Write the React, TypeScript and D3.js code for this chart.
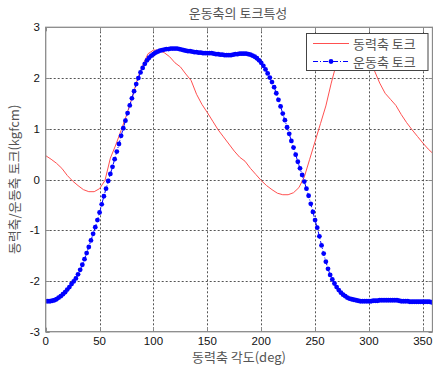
import React, { useRef, useEffect } from 'react'
import * as d3 from 'd3'

// 동력축 토크, every 5 deg from 0 to 360
const driveAngles = d3.range(0, 361, 5)
const driveTorque = [
  0.47, 0.40, 0.32, 0.22, 0.08, -0.03, -0.12, -0.20, -0.24, -0.24,
  -0.18, -0.02, 0.42, 0.68, 0.97, 1.27, 1.60, 1.97, 2.25, 2.48,
  2.55, 2.55, 2.50, 2.42, 2.30, 2.22, 2.08, 1.95, 1.68, 1.48,
  1.32, 1.15, 0.98, 0.84, 0.70, 0.56, 0.44, 0.36, 0.22, 0.10,
  -0.02, -0.12, -0.20, -0.27, -0.30, -0.30, -0.26, -0.16, 0.05, 0.40,
  0.75, 1.10, 1.45, 1.90, 2.30, 2.50, 2.60, 2.60, 2.55, 2.45,
  2.32, 2.15, 1.90, 1.70, 1.58, 1.46, 1.28, 1.12, 0.98, 0.85,
  0.72, 0.60, 0.50,
]

// 운동축 토크, every 2 deg from 0 to 360
const motionAngles = d3.range(0, 361, 2)
const motionTorque = [
  -2.40, -2.40, -2.40, -2.39, -2.38, -2.36, -2.33, -2.30, -2.26, -2.22,
  -2.17, -2.12, -2.06, -2.01, -1.95, -1.87, -1.78, -1.68, -1.57, -1.45,
  -1.33, -1.20, -1.07, -0.94, -0.80, -0.65, -0.49, -0.33, -0.18, -0.03,
  0.11, 0.25, 0.40, 0.55, 0.70, 0.86, 1.01, 1.16, 1.31, 1.46,
  1.60, 1.74, 1.88, 2.00, 2.11, 2.20, 2.28, 2.35, 2.40, 2.44,
  2.47, 2.50, 2.52, 2.54, 2.55, 2.56, 2.57, 2.57, 2.58, 2.58,
  2.58, 2.58, 2.57, 2.56, 2.55, 2.54, 2.53, 2.53, 2.52, 2.51,
  2.51, 2.50, 2.50, 2.49, 2.49, 2.49, 2.49, 2.49, 2.48, 2.47,
  2.47, 2.46, 2.46, 2.45, 2.45, 2.45, 2.45, 2.46, 2.47, 2.47,
  2.48, 2.48, 2.48, 2.48, 2.47, 2.46, 2.44, 2.42, 2.39, 2.35,
  2.30, 2.24, 2.17, 2.09, 2.01, 1.92, 1.82, 1.70, 1.57, 1.44,
  1.30, 1.17, 1.03, 0.90, 0.76, 0.63, 0.49, 0.35, 0.22, 0.09,
  -0.04, -0.18, -0.32, -0.48, -0.64, -0.80, -0.95, -1.12, -1.30, -1.46,
  -1.62, -1.76, -1.88, -1.97, -2.05, -2.12, -2.18, -2.23, -2.27, -2.30,
  -2.33, -2.35, -2.36, -2.37, -2.38, -2.39, -2.40, -2.40, -2.40, -2.40,
  -2.40, -2.40, -2.39, -2.39, -2.39, -2.38, -2.38, -2.38, -2.38, -2.38,
  -2.38, -2.38, -2.38, -2.38, -2.39, -2.40, -2.40, -2.40, -2.40, -2.41,
  -2.41, -2.41, -2.41, -2.41, -2.41, -2.41, -2.41, -2.41, -2.41, -2.42,
  -2.42,
]

const xTicks = [0, 50, 100, 150, 200, 250, 300, 350]
const yTicks = [-3, -2, -1, 0, 1, 2, 3]
const legendLabels = ['동력축 토크', '운동축 토크']

const KR = '"Noto Sans CJK KR", "Liberation Sans", sans-serif'
const NUM = '"Liberation Sans", Arial, sans-serif'

export default function App() {
  const svgRef = useRef<SVGSVGElement>(null)

  useEffect(() => {
    const width = 433
    const height = 366
    const svg = d3.select(svgRef.current)
    svg.selectAll('*').remove()

    const x = d3.scaleLinear().domain([0, 360]).range([45.7, 433.6])
    const y = d3.scaleLinear().domain([-3, 3]).range([331.7, 27.3])
    const [x0, x1] = [45.7, 432.5]
    const [y0, y1] = [331.7, 27.3]

    // white plot area
    svg.append('rect').attr('x', x0).attr('y', y1).attr('width', x1 - x0).attr('height', y0 - y1).attr('fill', '#fff')

    // grid
    const grid = svg.append('g').attr('stroke', '#555').attr('stroke-width', 1).attr('stroke-dasharray', '2,2')
    xTicks.filter(d => d > 0).forEach(d => {
      grid.append('line').attr('x1', Math.round(x(d)) + 0.5).attr('x2', Math.round(x(d)) + 0.5).attr('y1', y1).attr('y2', y0)
    })
    yTicks.filter(d => d > -3 && d < 3).forEach(d => {
      grid.append('line').attr('x1', x0).attr('x2', x1).attr('y1', Math.round(y(d)) + 0.5).attr('y2', Math.round(y(d)) + 0.5)
    })

    const clip = svg.append('clipPath').attr('id', 'plotclip')
    clip.append('rect').attr('x', x0).attr('y', y1).attr('width', x1 - x0).attr('height', y0 - y1)
    const plot = svg.append('g').attr('clip-path', 'url(#plotclip)')

    // red drive torque
    const redLine = d3.line<number>()
      .x((_, i) => x(driveAngles[i]))
      .y(d => y(d))
    plot.append('path')
      .datum(driveTorque)
      .attr('d', redLine)
      .attr('fill', 'none')
      .attr('stroke', '#ff5050')
      .attr('stroke-width', 1)

    // blue motion torque
    const blueLine = d3.line<number>()
      .x((_, i) => x(motionAngles[i]))
      .y(d => y(d))
    plot.append('path')
      .datum(motionTorque)
      .attr('d', blueLine)
      .attr('fill', 'none')
      .attr('stroke', '#0000ff')
      .attr('stroke-width', 1)
      .attr('stroke-dasharray', '5,2,1,2')
    plot.append('g')
      .selectAll('circle')
      .data(motionTorque)
      .join('circle')
      .attr('cx', (_, i) => x(motionAngles[i]))
      .attr('cy', d => y(d))
      .attr('r', 2.4)
      .attr('fill', '#0000ff')

    // axes box
    const axisColor = '#8a8a8a'
    svg.append('rect')
      .attr('x', x0).attr('y', y1).attr('width', x1 - x0).attr('height', y0 - y1)
      .attr('fill', 'none').attr('stroke', axisColor).attr('stroke-width', 1.3)

    // ticks inward
    const ticks = svg.append('g').attr('stroke', axisColor).attr('stroke-width', 1)
    xTicks.forEach(d => {
      const px = Math.round(x(d)) + 0.5
      ticks.append('line').attr('x1', px).attr('x2', px).attr('y1', y0).attr('y2', y0 - 4)
      ticks.append('line').attr('x1', px).attr('x2', px).attr('y1', y1).attr('y2', y1 + 4)
    })
    yTicks.forEach(d => {
      const py = Math.round(y(d)) + 0.5
      ticks.append('line').attr('x1', x0).attr('x2', x0 + 4).attr('y1', py).attr('y2', py)
      ticks.append('line').attr('x1', x1).attr('x2', x1 - 4).attr('y1', py).attr('y2', py)
    })

    // tick labels
    svg.append('g').selectAll('text').data(xTicks).join('text')
      .attr('x', d => x(d)).attr('y', 345)
      .attr('text-anchor', 'middle')
      .attr('font-family', NUM).attr('font-size', 11.5).attr('fill', '#111')
      .text(d => d)
    svg.append('g').selectAll('text').data(yTicks).join('text')
      .attr('x', 40).attr('y', d => y(d) + 4)
      .attr('text-anchor', 'end')
      .attr('font-family', NUM).attr('font-size', 11.5).attr('fill', '#111')
      .text(d => d)

    // titles
    svg.append('text')
      .attr('x', 238).attr('y', 18)
      .attr('text-anchor', 'middle')
      .attr('font-family', KR).attr('font-size', 13).attr('fill', '#555')
      .text('운동축의 토크특성')
    svg.append('text')
      .attr('x', 239).attr('y', 362)
      .attr('text-anchor', 'middle')
      .attr('font-family', KR).attr('font-size', 13).attr('fill', '#555')
      .text('동력축 각도(deg)')
    svg.append('text')
      .attr('transform', `translate(19,${y(0)}) rotate(-90)`)
      .attr('text-anchor', 'middle')
      .attr('font-family', KR).attr('font-size', 13).attr('fill', '#555')
      .text('동력축/운동축 토크(kgfcm)')

    // legend
    const lg = svg.append('g')
    lg.append('rect')
      .attr('x', 306.5).attr('y', 33.5).attr('width', 121.5).attr('height', 37)
      .attr('fill', '#fff').attr('stroke', '#444').attr('stroke-width', 1)
    lg.append('line').attr('x1', 313).attr('x2', 349).attr('y1', 43.5).attr('y2', 43.5)
      .attr('stroke', '#ff5050').attr('stroke-width', 1)
    lg.append('line').attr('x1', 313).attr('x2', 349).attr('y1', 61.5).attr('y2', 61.5)
      .attr('stroke', '#0000ff').attr('stroke-width', 1).attr('stroke-dasharray', '5,2,1,2')
    lg.append('circle').attr('cx', 331).attr('cy', 61.5).attr('r', 2.4).attr('fill', '#0000ff')
    legendLabels.forEach((t, i) => {
      lg.append('text')
        .attr('x', 353).attr('y', 48.5 + i * 18)
        .attr('font-family', KR).attr('font-size', 13).attr('fill', '#555')
        .text(t)
    })

    svg.attr('width', width).attr('height', height)
  }, [])

  return (
    <div style={{ position: 'absolute', left: 0, top: 0, width: 433, height: 366, background: '#fff' }}>
      <svg ref={svgRef} width={433} height={366} style={{ display: 'block' }} />
    </div>
  )
}
